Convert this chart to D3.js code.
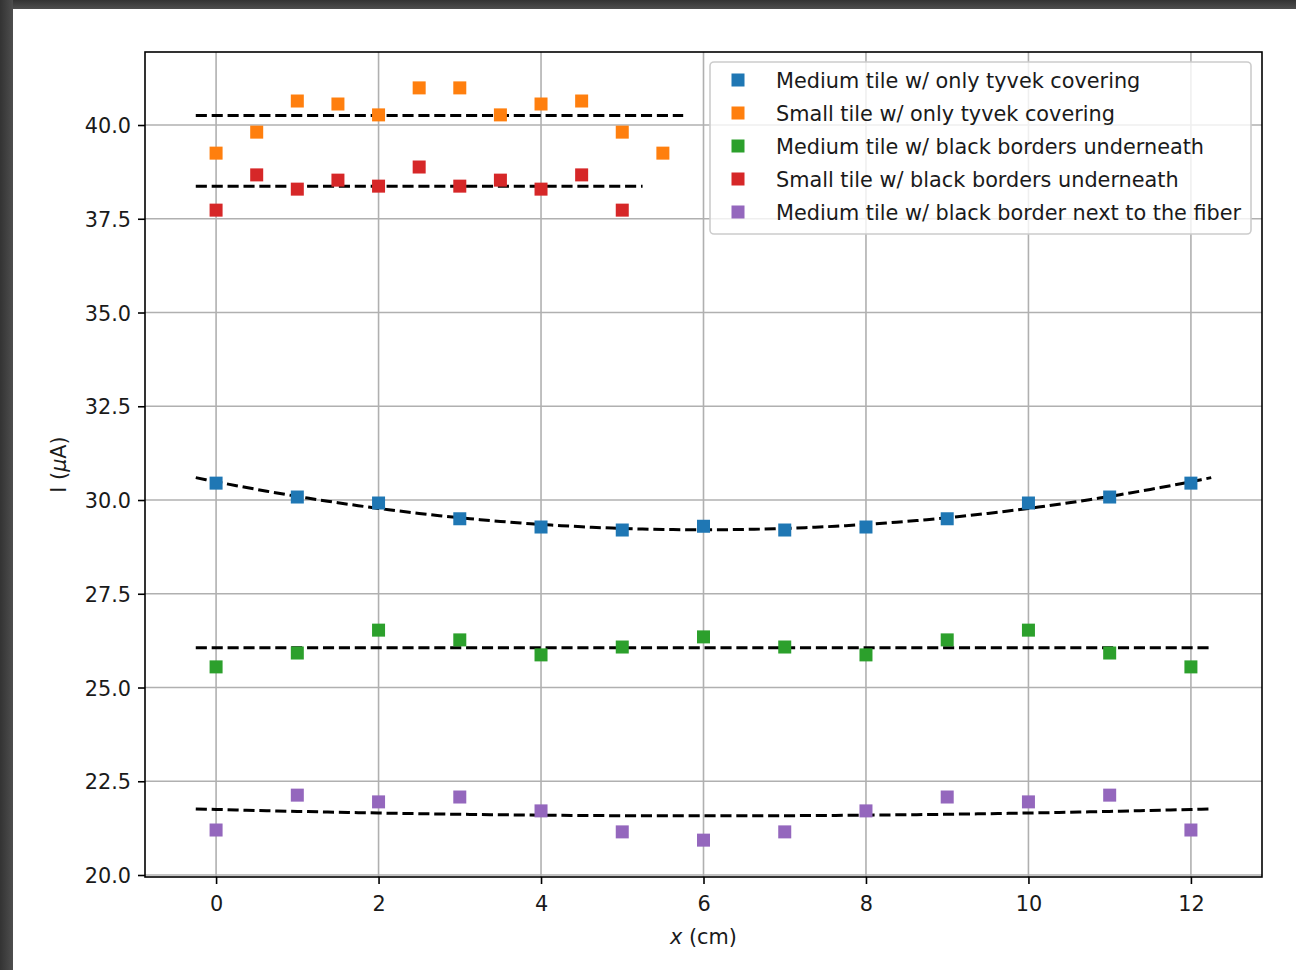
<!DOCTYPE html>
<html>
<head>
<meta charset="utf-8">
<script src="https://cdn.jsdelivr.net/npm/d3@7"></script>
<style>
  html, body { margin: 0; padding: 0; background: #3a3a3a; }
  #root { width: 1296px; height: 970px; }
  text { font-family: "DejaVu Sans", sans-serif; fill: #1a1a1a; }
</style>
</head>
<body>
<div id="root"></div>
<script>
// Data
const xMedium = [0, 1, 2, 3, 4, 5, 6, 7, 8, 9, 10, 11, 12];
const xSmallTyvek = [0, 0.5, 1, 1.5, 2, 2.5, 3, 3.5, 4, 4.5, 5, 5.5];
const xSmallBlack = [0, 0.5, 1, 1.5, 2, 2.5, 3, 3.5, 4, 4.5, 5];

const mediumTyvek = [30.45, 30.08, 29.92, 29.5, 29.28, 29.2, 29.3, 29.2, 29.28, 29.5, 29.92, 30.08, 30.45];
const smallTyvek = [39.25, 39.81, 40.64, 40.56, 40.27, 40.99, 40.99, 40.27, 40.56, 40.64, 39.81, 39.25];
const mediumBlack = [25.55, 25.92, 26.53, 26.27, 25.87, 26.08, 26.35, 26.08, 25.87, 26.27, 26.53, 25.92, 25.55];
const smallBlack = [37.73, 38.67, 38.29, 38.53, 38.37, 38.88, 38.37, 38.53, 38.29, 38.67, 37.73];
const mediumFiber = [21.2, 22.13, 21.95, 22.08, 21.71, 21.15, 20.93, 21.15, 21.71, 22.08, 21.95, 22.13, 21.2];

const labels = [
    'Medium tile w/ only tyvek covering',
    'Small tile w/ only tyvek covering',
    'Medium tile w/ black borders underneath',
    'Small tile w/ black borders underneath',
    'Medium tile w/ black border next to the fiber'
];
const fitDegree = [2, 0, 0, 0, 2];   // least-squares fit order per series

const xTicks = [0, 2, 4, 6, 8, 10, 12];
const yTicks = [20.0, 22.5, 25.0, 27.5, 30.0, 32.5, 35.0, 37.5, 40.0];

const series = [
    { x: xMedium, y: mediumTyvek },
    { x: xSmallTyvek, y: smallTyvek },
    { x: xMedium, y: mediumBlack },
    { x: xSmallBlack, y: smallBlack },
    { x: xMedium, y: mediumFiber }
];
const colors = ['#1f77b4', '#ff7f0e', '#2ca02c', '#d62728', '#9467bd'];

// least squares polynomial fit (normal equations)
const polyfit = (xs, ys, deg) => {
    const n = deg + 1;
    const A = d3.range(n).map(() => new Array(n + 1).fill(0));
    xs.forEach((x, k) => {
        for (let i = 0; i < n; i++) {
            for (let j = 0; j < n; j++) A[i][j] += Math.pow(x, i + j);
            A[i][n] += ys[k] * Math.pow(x, i);
        }
    });
    for (let i = 0; i < n; i++) {
        for (let r = i + 1; r < n; r++) {
            const f = A[r][i] / A[i][i];
            for (let c = i; c <= n; c++) A[r][c] -= f * A[i][c];
        }
    }
    const coef = new Array(n).fill(0);
    for (let i = n - 1; i >= 0; i--) {
        let s = A[i][n];
        for (let j = i + 1; j < n; j++) s -= A[i][j] * coef[j];
        coef[i] = s / A[i][i];
    }
    return x => coef.reduce((acc, c, i) => acc + c * Math.pow(x, i), 0);
};

const width = 1296;
const height = 970;
const plotLeft = 145, plotRight = 1262, plotTop = 52, plotBottom = 877;
const fontSize = '20.8px';

const svg = d3.select('#root')
    .append('svg')
    .attr('width', width)
    .attr('height', height);

// window frame
const defs = svg.append('defs');
const gTop = defs.append('linearGradient').attr('id', 'gtop').attr('x1', 0).attr('y1', 0).attr('x2', 0).attr('y2', 1);
gTop.append('stop').attr('offset', '0%').attr('stop-color', '#333');
gTop.append('stop').attr('offset', '100%').attr('stop-color', '#4e4e4e');
const gLeft = defs.append('linearGradient').attr('id', 'gleft').attr('x1', 0).attr('y1', 0).attr('x2', 1).attr('y2', 0);
gLeft.append('stop').attr('offset', '0%').attr('stop-color', '#333');
gLeft.append('stop').attr('offset', '100%').attr('stop-color', '#4e4e4e');
svg.append('rect').attr('width', width).attr('height', 9).attr('fill', 'url(#gtop)');
svg.append('rect').attr('width', 13).attr('height', height).attr('fill', 'url(#gleft)');
svg.append('rect').attr('x', 13).attr('y', 9).attr('width', width - 13).attr('height', height - 9).attr('fill', '#fff');

// Scales
const xScale = d3.scaleLinear().domain([-0.875, 12.875]).range([plotLeft, plotRight]);
const yScale = d3.scaleLinear().domain([19.947, 41.947]).range([plotBottom, plotTop]);

// Grid
svg.append('g').selectAll('line')
    .data(xTicks).enter().append('line')
    .attr('x1', d => xScale(d)).attr('x2', d => xScale(d))
    .attr('y1', plotTop).attr('y2', plotBottom)
    .attr('stroke', '#b0b0b0').attr('stroke-width', 1.6);
svg.append('g').selectAll('line')
    .data(yTicks).enter().append('line')
    .attr('x1', plotLeft).attr('x2', plotRight)
    .attr('y1', d => yScale(d)).attr('y2', d => yScale(d))
    .attr('stroke', '#b0b0b0').attr('stroke-width', 1.6);

// Fit lines
const line = d3.line().x(d => xScale(d[0])).y(d => yScale(d[1]));
series.forEach((s, i) => {
    const f = polyfit(s.x, s.y, fitDegree[i]);
    const x0 = d3.min(s.x) - 0.25, x1 = d3.max(s.x) + 0.25;
    const pts = d3.range(101).map(k => {
        const x = x0 + (x1 - x0) * k / 100;
        return [x, f(x)];
    });
    svg.append('path')
        .attr('d', line(pts))
        .attr('fill', 'none')
        .attr('stroke', '#000')
        .attr('stroke-width', 3)
        .attr('stroke-dasharray', '11.1,4.8');
});

// Markers
const m = 13;
series.forEach((s, i) => {
    svg.append('g').selectAll('rect')
        .data(s.x.map((x, k) => [x, s.y[k]]))
        .enter().append('rect')
        .attr('x', d => xScale(d[0]) - m / 2)
        .attr('y', d => yScale(d[1]) - m / 2)
        .attr('width', m).attr('height', m)
        .attr('fill', colors[i]);
});

// Axes
const xAxis = d3.axisBottom(xScale).tickValues(xTicks).tickFormat(d3.format('d')).tickSize(7).tickPadding(7);
const yAxis = d3.axisLeft(yScale).tickValues(yTicks).tickFormat(d3.format('.1f')).tickSize(7).tickPadding(7);

const gx = svg.append('g').attr('transform', `translate(0,${plotBottom})`).call(xAxis);
const gy = svg.append('g').attr('transform', `translate(${plotLeft},0)`).call(yAxis);
[gx, gy].forEach(g => {
    g.select('.domain').remove();
    g.selectAll('.tick line').attr('stroke', '#000').attr('stroke-width', 1.6);
    g.selectAll('.tick text').attr('font-size', fontSize).attr('fill', '#1a1a1a')
        .style('font-family', '"DejaVu Sans", sans-serif');
});
gx.selectAll('.tick text').attr('dy', '0.95em');
gy.selectAll('.tick text').attr('dy', '0.36em');

// Spines
svg.append('rect')
    .attr('x', plotLeft).attr('y', plotTop)
    .attr('width', plotRight - plotLeft).attr('height', plotBottom - plotTop)
    .attr('fill', 'none').attr('stroke', '#000').attr('stroke-width', 1.6);

// Axis labels
const xl = svg.append('text')
    .attr('x', (plotLeft + plotRight) / 2).attr('y', 944)
    .attr('text-anchor', 'middle')
    .attr('font-size', fontSize);
xl.append('tspan').attr('font-style', 'italic').text('x');
xl.append('tspan').text(' (cm)');

const yl = svg.append('text')
    .attr('transform', `translate(66,${(plotTop + plotBottom) / 2})rotate(-90)`)
    .attr('text-anchor', 'middle')
    .attr('font-size', fontSize);
yl.append('tspan').text('I (');
yl.append('tspan').attr('font-style', 'italic').text('\u03bc');
yl.append('tspan').text('A)');

// Legend
const legend = svg.append('g');
legend.append('rect')
    .attr('x', 710).attr('y', 62)
    .attr('width', 541).attr('height', 172)
    .attr('rx', 4)
    .attr('fill', '#fff').attr('fill-opacity', 0.8)
    .attr('stroke', '#cccccc').attr('stroke-width', 1.6);
const item = legend.selectAll('.legend')
    .data(labels)
    .enter().append('g')
    .attr('class', 'legend')
    .attr('transform', (d, i) => `translate(0,${80 + i * 33})`);
item.append('rect')
    .attr('x', 738 - m / 2).attr('y', -m / 2)
    .attr('width', m).attr('height', m)
    .attr('fill', (d, i) => colors[i]);
item.append('text')
    .attr('x', 776).attr('y', 0).attr('dy', '0.36em')
    .attr('font-size', fontSize)
    .text(d => d);
</script>
</body>
</html>
